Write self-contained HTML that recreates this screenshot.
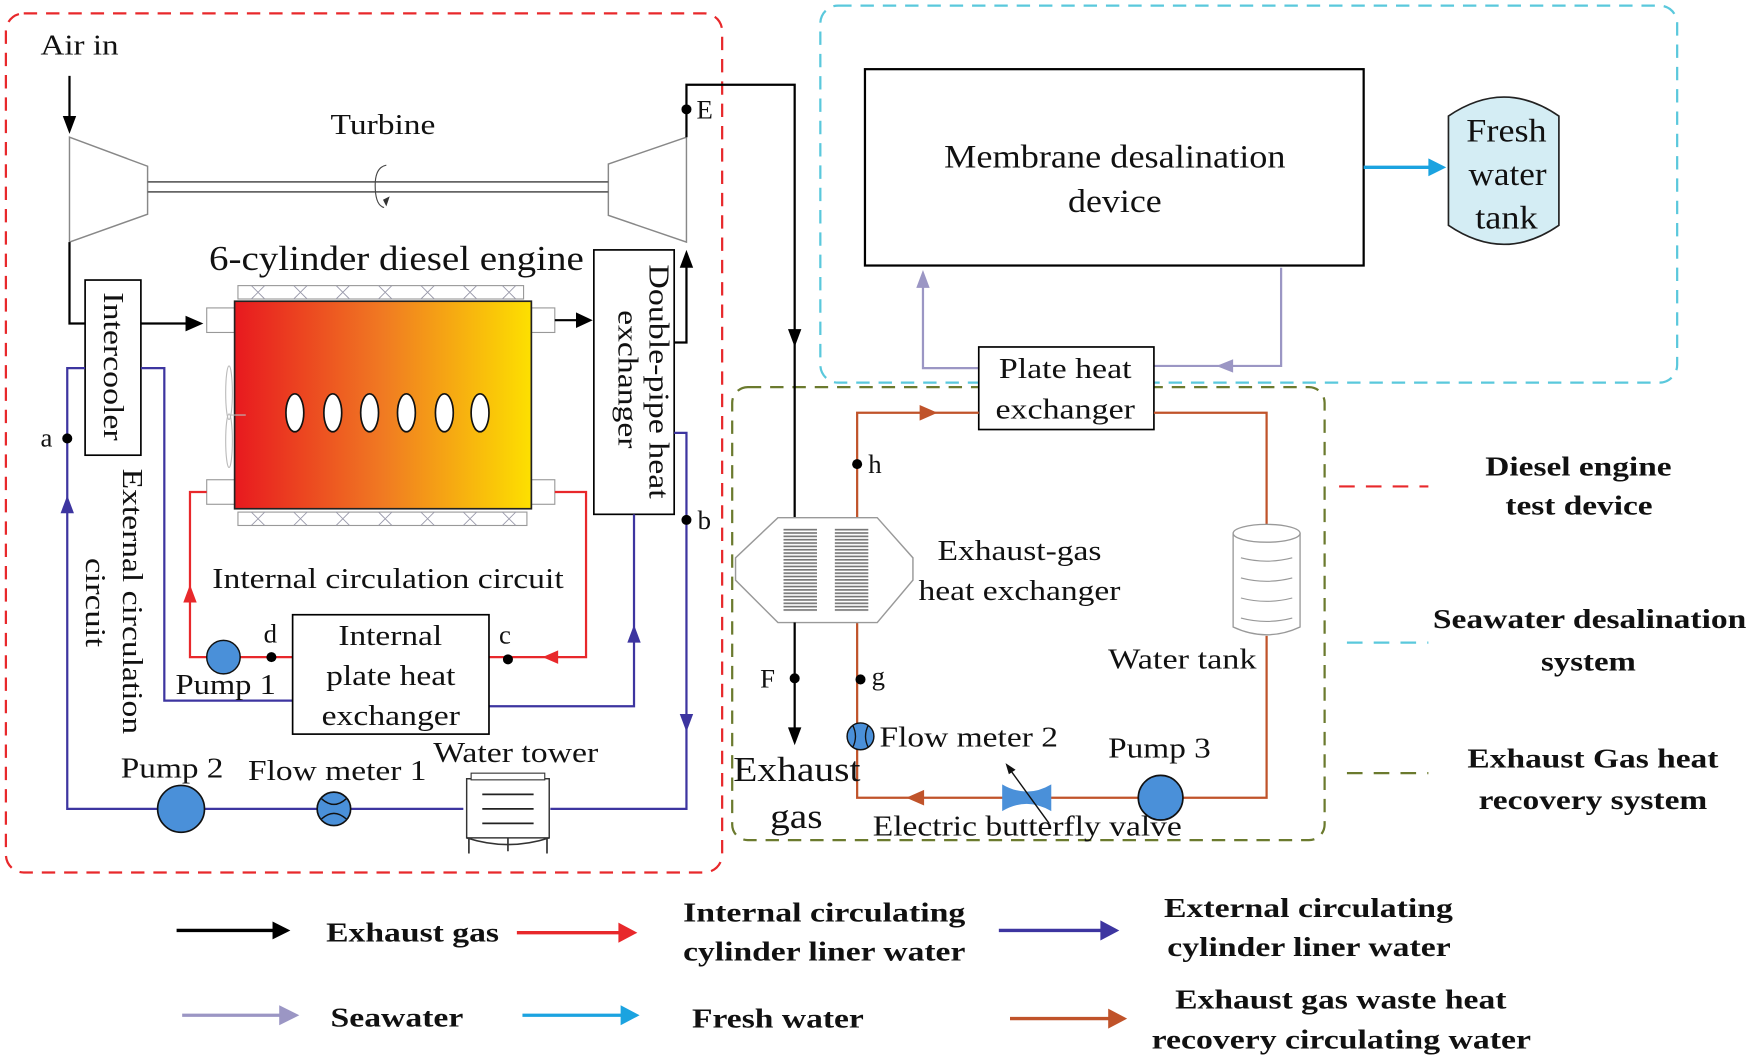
<!DOCTYPE html>
<html><head><meta charset="utf-8"><style>
html,body{margin:0;padding:0;background:#fff;}
svg{display:block;}
text{font-family:"Liberation Serif",serif;fill:#111;}
.b{font-weight:bold;}
</style></head><body>
<svg width="1750" height="1061" viewBox="0 0 1568 951" xmlns="http://www.w3.org/2000/svg">
<defs>
<linearGradient id="eg" x1="0" x2="1" y1="0" y2="0"><stop offset="0" stop-color="#e8191f"/><stop offset="0.5" stop-color="#f07a22"/><stop offset="1" stop-color="#fde000"/></linearGradient>
<pattern id="fin" width="4" height="3" patternUnits="userSpaceOnUse"><rect width="4" height="1.5" fill="#777"/></pattern>
</defs>
<rect x="5" y="12" width="642" height="770" rx="16" fill="none" stroke="#e8282b" stroke-width="2" stroke-dasharray="12,8"/>
<rect x="735" y="5" width="768" height="338" rx="16" fill="none" stroke="#5ac8dc" stroke-width="2" stroke-dasharray="12,8"/>
<rect x="656" y="347" width="531" height="406" rx="14" fill="none" stroke="#6b7a2e" stroke-width="2" stroke-dasharray="12,8"/>

<text x="36" y="49" font-size="26" textLength="70" lengthAdjust="spacingAndGlyphs">Air in</text>
<line x1="62" y1="68" x2="62" y2="108" stroke="#000" stroke-width="2"/>
<polygon points="56,104 68,104 62,120" fill="#000"/>
<polygon points="62,123 132,149 132,192 62,217" fill="#fff" stroke="#888" stroke-width="1.3"/>
<polygon points="615,123 545,147 545,193 615,217" fill="#fff" stroke="#888" stroke-width="1.3"/>
<line x1="132" y1="163" x2="545" y2="163" stroke="#666" stroke-width="1.5"/>
<line x1="132" y1="172" x2="545" y2="172" stroke="#666" stroke-width="1.5"/>
<path d="M346,148 Q336,150 336,166 Q336,184 344,186" fill="none" stroke="#444" stroke-width="1"/>
<polygon points="343,179 349,176 346,185" fill="#333"/>
<text x="296" y="120" font-size="26" textLength="94" lengthAdjust="spacingAndGlyphs">Turbine</text>
<polyline points="615,123 615,76 712,76 712,464" fill="none" stroke="#000" stroke-width="2"/>
<polygon points="706,295 718,295 712,311" fill="#000"/>
<circle cx="615" cy="98" r="4.5" fill="#000"/>
<text x="624" y="106" font-size="24">E</text>
<polyline points="62,217 62,290 170,290" fill="none" stroke="#000" stroke-width="2"/>
<polygon points="166,283 182,290 166,297" fill="#000"/>
<rect x="76" y="251" width="50" height="157" fill="#fff" stroke="#000" stroke-width="1.5"/>
<text transform="translate(93,262) rotate(90)" font-size="26" textLength="133" lengthAdjust="spacingAndGlyphs">Intercooler</text>

<text x="187" y="242" font-size="31" textLength="336" lengthAdjust="spacingAndGlyphs">6-cylinder diesel engine</text>
<rect x="213" y="256" width="256" height="12" fill="#fff" stroke="#999" stroke-width="1"/>
<rect x="213" y="459" width="259" height="12" fill="#fff" stroke="#999" stroke-width="1"/>
<g stroke="#99a" stroke-width="0.8">
<path d="M225,256 l12,12 M237,256 l-12,12 M263,256 l12,12 M275,256 l-12,12 M301,256 l12,12 M313,256 l-12,12 M339,256 l12,12 M351,256 l-12,12 M377,256 l12,12 M389,256 l-12,12 M415,256 l12,12 M427,256 l-12,12 M450,256 l12,12 M462,256 l-12,12"/>
<path d="M225,459 l12,12 M237,459 l-12,12 M263,459 l12,12 M275,459 l-12,12 M301,459 l12,12 M313,459 l-12,12 M339,459 l12,12 M351,459 l-12,12 M377,459 l12,12 M389,459 l-12,12 M415,459 l12,12 M427,459 l-12,12 M450,459 l12,12 M462,459 l-12,12"/>
</g>
<rect x="185" y="276" width="25" height="22" fill="#fff" stroke="#999"/>
<rect x="185" y="430" width="25" height="22" fill="#fff" stroke="#999"/>
<rect x="476" y="276" width="21" height="22" fill="#fff" stroke="#999"/>
<rect x="476" y="430" width="21" height="22" fill="#fff" stroke="#999"/>
<rect x="210" y="270" width="266" height="186" fill="url(#eg)" stroke="#222" stroke-width="1.5"/>
<g fill="#fff" stroke="#111" stroke-width="1.5">
<ellipse cx="264" cy="370" rx="8" ry="17"/><ellipse cx="298" cy="370" rx="8" ry="17"/><ellipse cx="331" cy="370" rx="8" ry="17"/><ellipse cx="364" cy="370" rx="8" ry="17"/><ellipse cx="398" cy="370" rx="8" ry="17"/><ellipse cx="430" cy="370" rx="8" ry="17"/>
</g>
<g fill="none" stroke="#bbb" stroke-width="1"><ellipse cx="205" cy="352" rx="3" ry="24"/><ellipse cx="205" cy="395" rx="3" ry="24"/><line x1="207" y1="372" x2="220" y2="372"/></g>
<line x1="497" y1="287" x2="518" y2="287" stroke="#000" stroke-width="2"/>
<polygon points="516,280 531,287 516,294" fill="#000"/>
<rect x="532" y="224" width="72" height="237" fill="#fff" stroke="#000" stroke-width="1.5"/>
<text transform="translate(582,237) rotate(90)" font-size="26" textLength="210" lengthAdjust="spacingAndGlyphs">Double-pipe heat</text>
<text transform="translate(554,278) rotate(90)" font-size="26" textLength="124" lengthAdjust="spacingAndGlyphs">exchanger</text>
<polyline points="604,307 615,307 615,238" fill="none" stroke="#000" stroke-width="2"/>
<polygon points="609,240 621,240 615,224" fill="#000"/>

<g fill="none" stroke="#3d35a0" stroke-width="2">
<polyline points="604,388 615,388 615,725 493,725"/>
<polyline points="415,725 60,725 60,330 76,330"/>
<polyline points="126,330 147,330 147,628 262,628"/>
<polyline points="438,633 568,633 568,461"/>
</g>
<polygon points="54,460 66,460 60,444" fill="#3d35a0"/>
<polygon points="562,576 574,576 568,560" fill="#3d35a0"/>
<polygon points="609,640 621,640 615,656" fill="#3d35a0"/>
<circle cx="60" cy="393" r="4.5" fill="#000"/><text x="36" y="400" font-size="24">a</text>
<circle cx="615" cy="466" r="4.5" fill="#000"/><text x="625" y="474" font-size="24">b</text>

<g fill="none" stroke="#e8282b" stroke-width="2">
<polyline points="185,441 170,441 170,589 262,589"/>
<polyline points="438,589 525,589 525,441 497,441"/>
</g>
<polygon points="164,540 176,540 170,524" fill="#e8282b"/>
<polygon points="500,583 500,595 486,589" fill="#e8282b"/>
<circle cx="200" cy="589" r="15" fill="#4a90d9" stroke="#111" stroke-width="1.3"/>
<circle cx="243" cy="589" r="4.5" fill="#000"/><text x="236" y="576" font-size="24">d</text>
<circle cx="455" cy="591" r="4.5" fill="#000"/><text x="447" y="577" font-size="24">c</text>
<rect x="262" y="551" width="176" height="107" fill="#fff" stroke="#000" stroke-width="1.5"/>
<text x="303" y="578" font-size="26" textLength="93" lengthAdjust="spacingAndGlyphs">Internal</text>
<text x="292" y="614" font-size="26" textLength="116" lengthAdjust="spacingAndGlyphs">plate heat</text>
<text x="288" y="650" font-size="26" textLength="124" lengthAdjust="spacingAndGlyphs">exchanger</text>
<text x="190" y="527" font-size="26" textLength="315" lengthAdjust="spacingAndGlyphs">Internal circulation circuit</text>
<text x="157" y="622" font-size="26" textLength="90" lengthAdjust="spacingAndGlyphs">Pump 1</text>
<text transform="translate(110,420) rotate(90)" font-size="26" textLength="238" lengthAdjust="spacingAndGlyphs">External circulation</text>
<text transform="translate(77,500) rotate(90)" font-size="26" textLength="80" lengthAdjust="spacingAndGlyphs">circuit</text>
<circle cx="162" cy="725" r="21" fill="#4a90d9" stroke="#111" stroke-width="1.5"/>
<circle cx="299" cy="725" r="15" fill="#4a90d9" stroke="#111" stroke-width="1.5"/>
<path d="M288,716 q11,10 22,0 M288,734 q11,-10 22,0" fill="none" stroke="#111" stroke-width="1.3"/>
<rect x="418" y="698" width="74" height="53" fill="#fff" stroke="#333" stroke-width="1.3"/>
<rect x="422" y="693" width="66" height="6" fill="#fff" stroke="#333" stroke-width="1"/>
<path d="M432,712 h46 M432,725 h46 M432,738 h46" stroke="#222" stroke-width="1.5"/>
<path d="M420,751 v14 M490,751 v14 M455,751 v12 M418,751 q37,12 74,0" fill="none" stroke="#333" stroke-width="1.5"/>
<text x="108" y="697" font-size="26" textLength="92" lengthAdjust="spacingAndGlyphs">Pump 2</text>
<text x="222" y="699" font-size="26" textLength="160" lengthAdjust="spacingAndGlyphs">Flow meter 1</text>
<text x="388" y="683" font-size="26" textLength="148" lengthAdjust="spacingAndGlyphs">Water tower</text>

<rect x="775" y="62" width="447" height="176" fill="#fff" stroke="#000" stroke-width="2"/>
<text x="846" y="150" font-size="29" textLength="306" lengthAdjust="spacingAndGlyphs">Membrane desalination</text>
<text x="957" y="190" font-size="29" textLength="84" lengthAdjust="spacingAndGlyphs">device</text>
<path d="M1298,104 Q1348,70 1397,104 L1397,202 Q1348,236 1298,202 Z" fill="#d4edf4" stroke="#222" stroke-width="1.5"/>
<text x="1314" y="127" font-size="29" textLength="72" lengthAdjust="spacingAndGlyphs">Fresh</text>
<text x="1316" y="166" font-size="29" textLength="70" lengthAdjust="spacingAndGlyphs">water</text>
<text x="1322" y="205" font-size="29" textLength="56" lengthAdjust="spacingAndGlyphs">tank</text>
<line x1="1222" y1="150" x2="1282" y2="150" stroke="#1ba3e0" stroke-width="3"/>
<polygon points="1280,142 1296,150 1280,158" fill="#1ba3e0"/>
<g fill="none" stroke="#9b96c4" stroke-width="2">
<polyline points="877,330 827,330 827,254"/>
<polyline points="1148,240 1148,328 1034,328"/>
</g>
<polygon points="821,258 833,258 827,242" fill="#9b96c4"/>
<polygon points="1105,322 1105,334 1090,328" fill="#9b96c4"/>
<rect x="877" y="311" width="157" height="74" fill="#fff" stroke="#000" stroke-width="1.5"/>
<text x="895" y="339" font-size="26" textLength="119" lengthAdjust="spacingAndGlyphs">Plate heat</text>
<text x="892" y="375" font-size="26" textLength="125" lengthAdjust="spacingAndGlyphs">exchanger</text>

<g fill="none" stroke="#c0532a" stroke-width="2">
<polyline points="768,464 768,370 877,370"/>
<polyline points="1034,370 1135,370 1135,470"/>
<polyline points="1135,570 1135,715 768,715 768,558"/>
</g>
<polygon points="824,363 840,370 824,377" fill="#c0532a"/>
<polygon points="828,708 828,722 812,715" fill="#c0532a"/>
<circle cx="768" cy="416" r="4.5" fill="#000"/><text x="778" y="424" font-size="24">h</text>
<circle cx="771" cy="609" r="4.5" fill="#000"/><text x="781" y="614" font-size="24">g</text>
<circle cx="771" cy="660" r="12" fill="#4a90d9" stroke="#111" stroke-width="1.3"/>
<path d="M764,650 q5,10 0,20 M778,650 q-5,10 0,20" fill="none" stroke="#111" stroke-width="1.2"/>
<circle cx="1040" cy="715" r="20" fill="#4a90d9" stroke="#111" stroke-width="1.5"/>
<path d="M898,703 Q920,716 942,703 L942,727 Q920,714 898,727 Z" fill="#4a90d9"/>
<line x1="903" y1="687" x2="940" y2="738" stroke="#111" stroke-width="1.3"/>
<polygon points="901,684 910,690 904,694" fill="#111"/>
<path d="M1105,478 v84 q30,14 60,0 v-84" fill="#fff" stroke="#999" stroke-width="1.2"/>
<ellipse cx="1135" cy="478" rx="30" ry="8" fill="#fff" stroke="#999" stroke-width="1.2"/>
<path d="M1112,500 q23,6 46,0 M1112,518 q23,6 46,0 M1112,536 q23,6 46,0 M1112,554 q23,6 46,0" fill="none" stroke="#999" stroke-width="1"/>
<text x="993" y="599" font-size="26" textLength="133" lengthAdjust="spacingAndGlyphs">Water tank</text>
<polygon points="697,464 786,464 818,500 818,520 786,558 697,558 659,520 659,500" fill="#fff" stroke="#999" stroke-width="1.3"/>
<rect x="702" y="473" width="30" height="76" fill="url(#fin)"/>
<rect x="748" y="473" width="30" height="76" fill="url(#fin)"/>
<line x1="712" y1="558" x2="712" y2="654" stroke="#000" stroke-width="2"/>
<polygon points="706,652 718,652 712,668" fill="#000"/>
<circle cx="712" cy="608" r="4.5" fill="#000"/><text x="681" y="616" font-size="24">F</text>
<text x="840" y="502" font-size="26" textLength="147" lengthAdjust="spacingAndGlyphs">Exhaust-gas</text>
<text x="823" y="538" font-size="26" textLength="181" lengthAdjust="spacingAndGlyphs">heat exchanger</text>
<text x="657" y="700" font-size="31" textLength="114" lengthAdjust="spacingAndGlyphs">Exhaust</text>
<text x="690" y="742" font-size="31" textLength="47" lengthAdjust="spacingAndGlyphs">gas</text>
<text x="788" y="669" font-size="26" textLength="160" lengthAdjust="spacingAndGlyphs">Flow meter 2</text>
<text x="993" y="679" font-size="26" textLength="92" lengthAdjust="spacingAndGlyphs">Pump 3</text>
<text x="782" y="749" font-size="26" textLength="277" lengthAdjust="spacingAndGlyphs">Electric butterfly valve</text>

<line x1="1200" y1="436" x2="1280" y2="436" stroke="#e8282b" stroke-width="2" stroke-dasharray="14,10"/>
<text class="b" x="1331" y="426" font-size="25" textLength="167" lengthAdjust="spacingAndGlyphs">Diesel engine</text>
<text class="b" x="1349" y="461" font-size="25" textLength="132" lengthAdjust="spacingAndGlyphs">test device</text>
<line x1="1207" y1="576" x2="1280" y2="576" stroke="#5ac8dc" stroke-width="2" stroke-dasharray="14,10"/>
<text class="b" x="1284" y="563" font-size="25" textLength="281" lengthAdjust="spacingAndGlyphs">Seawater desalination</text>
<text class="b" x="1381" y="601" font-size="25" textLength="85" lengthAdjust="spacingAndGlyphs">system</text>
<line x1="1207" y1="693" x2="1280" y2="693" stroke="#6b7a2e" stroke-width="2" stroke-dasharray="14,10"/>
<text class="b" x="1315" y="688" font-size="25" textLength="225" lengthAdjust="spacingAndGlyphs">Exhaust Gas heat</text>
<text class="b" x="1325" y="725" font-size="25" textLength="205" lengthAdjust="spacingAndGlyphs">recovery system</text>

<line x1="158" y1="834" x2="246" y2="834" stroke="#000" stroke-width="3"/><polygon points="244,826 260,834 244,842" fill="#000"/>
<text class="b" x="292" y="844" font-size="25" textLength="155" lengthAdjust="spacingAndGlyphs">Exhaust gas</text>
<line x1="463" y1="836" x2="556" y2="836" stroke="#e8282b" stroke-width="3"/><polygon points="554,827 571,836 554,845" fill="#e8282b"/>
<text class="b" x="612" y="826" font-size="25" textLength="253" lengthAdjust="spacingAndGlyphs">Internal circulating</text>
<text class="b" x="612" y="861" font-size="25" textLength="253" lengthAdjust="spacingAndGlyphs">cylinder liner water</text>
<line x1="895" y1="834" x2="988" y2="834" stroke="#3d35a0" stroke-width="3"/><polygon points="986,825 1003,834 986,843" fill="#3d35a0"/>
<text class="b" x="1043" y="822" font-size="25" textLength="259" lengthAdjust="spacingAndGlyphs">External circulating</text>
<text class="b" x="1046" y="857" font-size="25" textLength="254" lengthAdjust="spacingAndGlyphs">cylinder liner water</text>
<line x1="163" y1="910" x2="252" y2="910" stroke="#9b96c4" stroke-width="3"/><polygon points="250,901 268,910 250,919" fill="#9b96c4"/>
<text class="b" x="296" y="920" font-size="25" textLength="119" lengthAdjust="spacingAndGlyphs">Seawater</text>
<line x1="468" y1="910" x2="558" y2="910" stroke="#1ba3e0" stroke-width="3"/><polygon points="556,901 573,910 556,919" fill="#1ba3e0"/>
<text class="b" x="620" y="921" font-size="25" textLength="154" lengthAdjust="spacingAndGlyphs">Fresh water</text>
<line x1="905" y1="913" x2="995" y2="913" stroke="#c0532a" stroke-width="3"/><polygon points="993,904 1010,913 993,922" fill="#c0532a"/>
<text class="b" x="1053" y="904" font-size="25" textLength="297" lengthAdjust="spacingAndGlyphs">Exhaust gas waste heat</text>
<text class="b" x="1032" y="940" font-size="25" textLength="340" lengthAdjust="spacingAndGlyphs">recovery circulating water</text>
</svg>
</body></html>
